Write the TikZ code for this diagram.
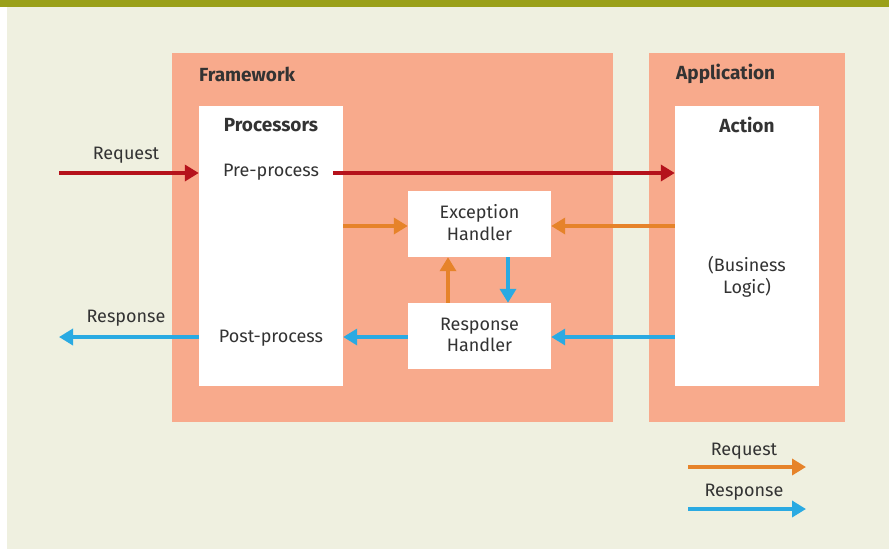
\documentclass[tikz,border=0pt]{standalone}
\usepackage{fontspec}
\setmainfont{Fira Sans}
\usetikzlibrary{arrows.meta}
\definecolor{olive}{HTML}{9AA019}
\definecolor{cream}{HTML}{EFF0E0}
\definecolor{salmon}{HTML}{F8AA8C}
\definecolor{reqred}{HTML}{B5121B}
\definecolor{reqorange}{HTML}{E6832A}
\definecolor{respblue}{HTML}{2AAAE2}
\definecolor{ink}{HTML}{333333}
\tikzset{
  whitebox/.style={fill=white, draw=none, inner sep=0pt},
  lbl/.style={text=ink, font=\fontsize{18}{21.5}\selectfont, inner sep=0pt, align=center},
  head/.style={text=ink, font=\fontsize{19}{22}\selectfont\bfseries, inner sep=0pt},
  flow/.style={line width=4pt, -{Triangle[length=14pt,width=16pt]}},
}
\begin{document}
\begin{tikzpicture}[x=1pt,y=-1pt]
  \useasboundingbox (0,0) rectangle (889,550);
  \fill[white] (0,0) rectangle (889,550);
  \fill[cream] (7,7) rectangle (889,549);
  \fill[olive] (0,0) rectangle (889,7);

  % outer panels
  \fill[salmon] (172,53) rectangle (613,422);
  \fill[salmon] (649,53) rectangle (845,422);
  \node[head, anchor=west] (fwtitle) at (199,74) {Framework};
  \node[head, anchor=west] (apptitle) at (676,74) {Application};

  % white boxes
  \node[whitebox, minimum width=144pt, minimum height=280pt] (proc) at (271,246) {};
  \node[whitebox, minimum width=144pt, minimum height=280pt] (action) at (747,246) {};
  \node[whitebox, minimum width=143pt, minimum height=66pt] (exc) at (479.5,224) {};
  \node[whitebox, minimum width=143pt, minimum height=66pt] (resp) at (479.5,336) {};
  \node[lbl] (exctext) at (479.5,222.5) {Exception\\Handler};
  \node[lbl] (resptext) at (479.5,335) {Response\\Handler};

  \node[head] (proctitle) at (271,125) {Processors};
  \node[head] (acttitle) at (747,125) {Action};
  \node[lbl] (pre) at (271,172) {Pre-process};
  \node[lbl] (post) at (271,338) {Post-process};
  \node[lbl] (biz) at (747,277) {(Business\\Logic)};

  % outside request / response
  \coordinate (reqin) at (59,173);
  \coordinate (respout) at (59,337);
  \draw[flow, draw=reqred, -{Triangle[length=14pt,width=16pt,fill=reqred]}] (reqin) -- (reqin -| proc.west);
  \node[lbl] (reqlbl) at (126,155) {Request};
  \draw[flow, draw=respblue, -{Triangle[length=14pt,width=16pt,fill=respblue]}] (proc.west |- respout) -- (respout);
  \node[lbl] (resplbl) at (126,318) {Response};

  % pre-process to action
  \coordinate (prestart) at (333,173);
  \draw[flow, draw=reqred, -{Triangle[length=14pt,width=16pt,fill=reqred]}] (prestart) -- (prestart -| action.west);

  % exception paths
  \draw[flow, draw=reqorange] (proc.east |- exc.west) ++(0,2) coordinate (o1) -- (o1 -| exc.west);
  \draw[flow, draw=reqorange] (action.west |- exc.east) ++(0,2) coordinate (o2) -- (o2 -| exc.east);
  \draw[flow, draw=reqorange] ([xshift=-31.5pt]resp.north) -- ([xshift=-31.5pt]exc.south);
  \draw[flow, draw=respblue] ([xshift=28.5pt]exc.south) -- ([xshift=28.5pt]resp.north);

  % response paths
  \draw[flow, draw=respblue] (resp.west) ++(0,1) coordinate (b1) -- (b1 -| proc.east);
  \draw[flow, draw=respblue] (action.west |- resp.east) ++(0,1) coordinate (b2) -- (b2 -| resp.east);

  % legend
  \node[lbl] (legreq) at (744,451) {Request};
  \node[lbl] (legresp) at (744,492) {Response};
  \coordinate (lr1) at (688,467);
  \coordinate (lr2) at (806,467);
  \coordinate (lb1) at (688,509);
  \coordinate (lb2) at (806,509);
  \draw[flow, draw=reqorange] (lr1) -- (lr2);
  \draw[flow, draw=respblue] (lb1) -- (lb2);
\end{tikzpicture}
\end{document}
